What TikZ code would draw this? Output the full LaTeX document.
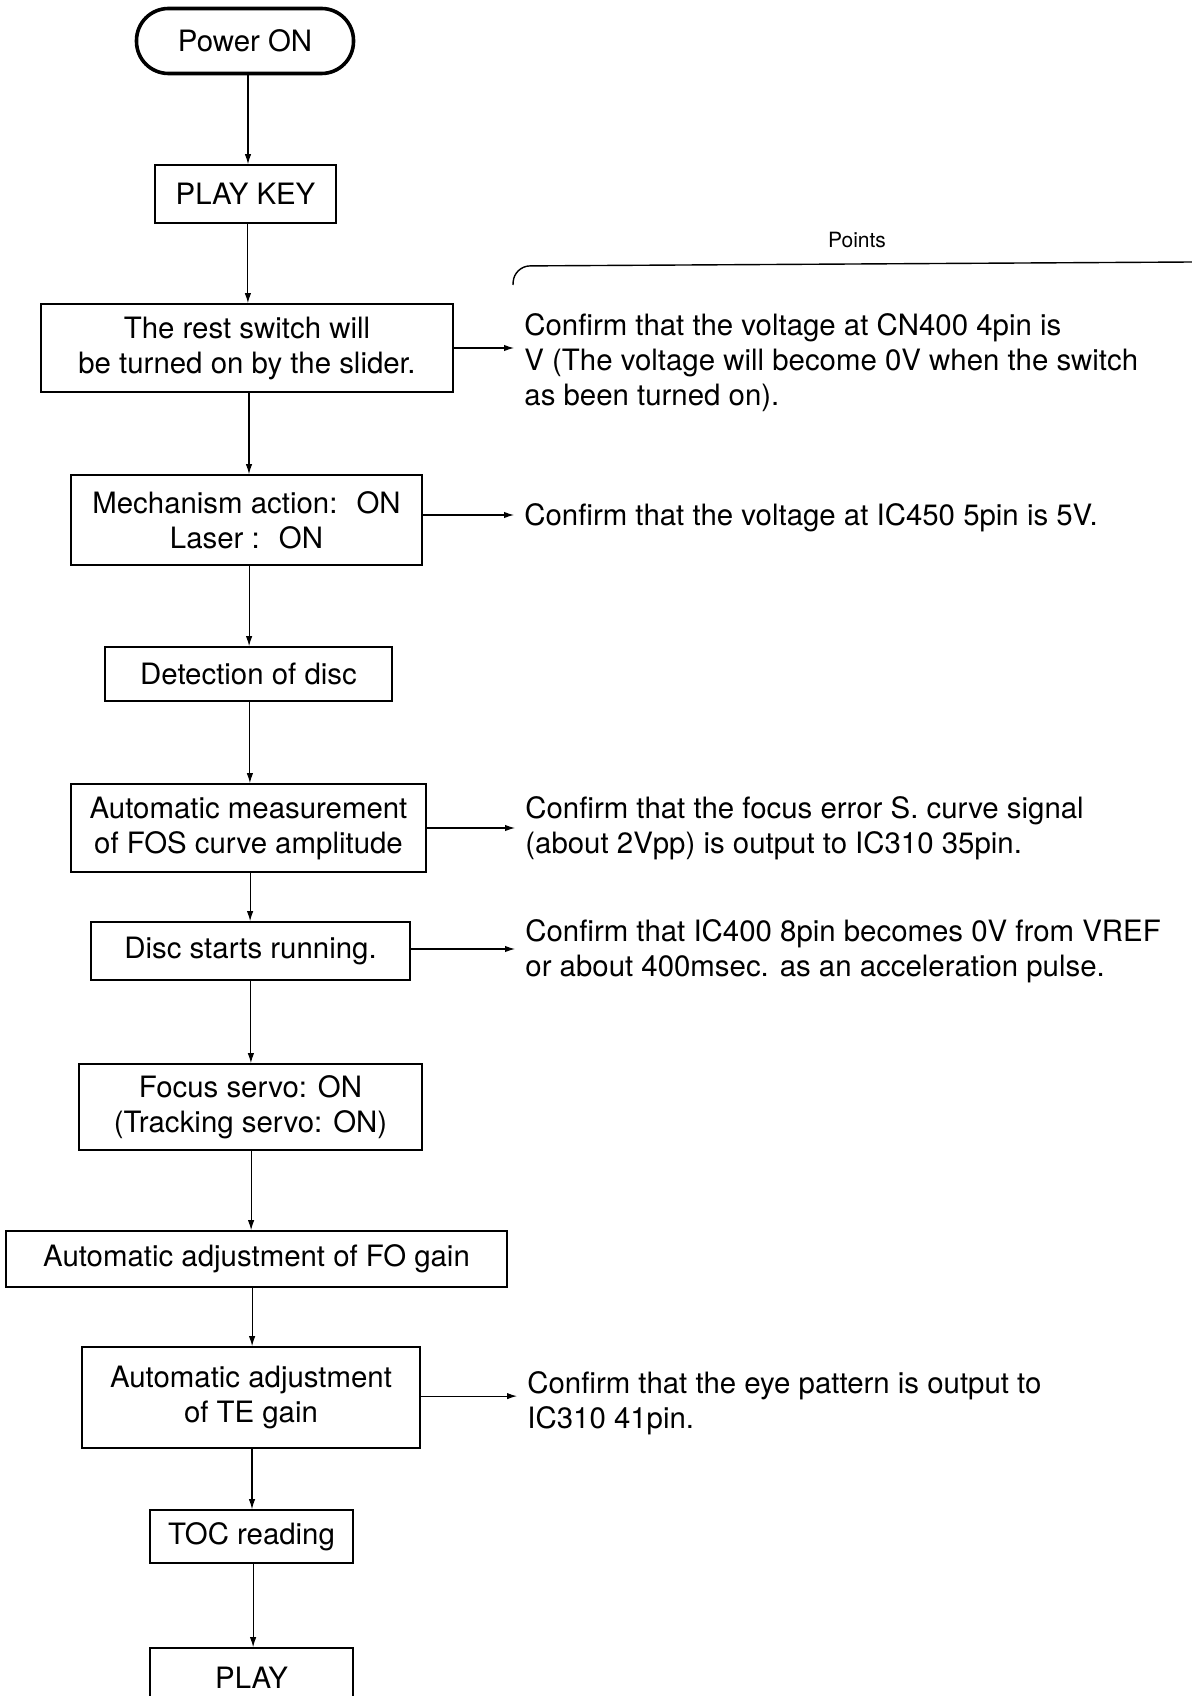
\documentclass[tikz,border=0pt]{standalone}
\usepackage{fontspec}
\setmainfont{TeX Gyre Heros}
\usetikzlibrary{arrows.meta}
\begin{document}
\begin{tikzpicture}[x=0.5pt,y=-0.5pt,
  txt/.style={font=\fontsize{14.7pt}{17.5pt}\selectfont},
  box/.style={txt,draw,line width=0.8pt,align=center,inner sep=0pt},
  startbox/.style={txt,draw,line width=1.8pt,rounded corners=16pt,align=center,inner sep=0pt},
  note/.style={txt,align=left,anchor=north west,inner xsep=5pt,inner ysep=0pt},
  arr/.style={line width=0.55pt,-{Latex[length=5pt,width=3.2pt]}}]
\useasboundingbox (0,0) rectangle (1192,1696);
\clip (0,0) rectangle (1192,1696);
% flow boxes
\node[startbox,minimum width=108.5pt,minimum height=32.5pt] (pwr) at (245,41) {Power ON};
\node[box,minimum width=90.5pt,minimum height=29pt] (key) at (245.5,194) {PLAY KEY};
\node[box,minimum width=206pt,minimum height=44pt] (rest) at (247,348) {The rest switch will\\be turned on by the slider.};
\node[box,minimum width=175.5pt,minimum height=45pt] (mech) at (246.5,520) {Mechanism action:~ ON\\Laser :~ ON};
\node[box,minimum width=143.5pt,minimum height=27pt] (det) at (248.5,674) {Detection of disc};
\node[box,minimum width=177.5pt,minimum height=44pt] (fos) at (248.5,828) {Automatic measurement\\of FOS curve amplitude};
\node[box,minimum width=159.5pt,minimum height=29pt] (disc) at (250.5,951) {Disc starts running.};
\node[box,minimum width=171.5pt,minimum height=43pt] (focus) at (250.5,1107) {Focus servo: ON\\(Tracking servo: ON)};
\node[box,minimum width=250.5pt,minimum height=28pt] (fo) at (256.5,1259) {Automatic adjustment of FO gain};
\node[box,minimum width=169pt,minimum height=50.5pt] (te) at (251,1397.5) {Automatic adjustment\\of TE gain};
\node[box,minimum width=101.5pt,minimum height=26.5pt] (toc) at (251.5,1536.5) {TOC reading};
\node[box,minimum width=101.5pt,minimum height=30pt] (play) at (251.5,1678) {PLAY};
% vertical connectors
\draw[arr] ([xshift=1.5pt]pwr.south) -- ([xshift=1.5pt]pwr.south |- key.north);
\draw[arr] ([xshift=1.2pt]key.south) -- ([xshift=1.2pt]key.south |- rest.north);
\draw[arr] ([xshift=1pt]rest.south) -- ([xshift=1pt]rest.south |- mech.north);
\draw[arr] ([xshift=1.3pt]mech.south) -- ([xshift=1.3pt]mech.south |- det.north);
\draw[arr] ([xshift=0.7pt]det.south) -- ([xshift=0.7pt]det.south |- fos.north);
\draw[arr] ([xshift=0.8pt]fos.south) -- ([xshift=0.8pt]fos.south |- disc.north);
\draw[arr] ([xshift=0.2pt]disc.south) -- ([xshift=0.2pt]disc.south |- focus.north);
\draw[arr] ([xshift=0.3pt]focus.south) -- ([xshift=0.3pt]focus.south |- fo.north);
\draw[arr] ([xshift=-2.2pt]fo.south) -- ([xshift=-2.2pt]fo.south |- te.north);
\draw[arr] ([xshift=0.5pt]te.south) -- ([xshift=0.5pt]te.south |- toc.north);
\draw[arr] ([xshift=0.8pt]toc.south) -- ([xshift=0.8pt]toc.south |- play.north);
% header
\node[font=\fontsize{10.5pt}{12pt}\selectfont] (pts) at (857,240) {Points};
\draw[line width=0.7pt,rounded corners=8pt] (513,285) -- (514,266) -- (1192,262);
% notes
\node[note] (t1) at (514,313.5) {Confirm that the voltage at CN400 4pin is\\V (The voltage will become 0V when the switch\\as been turned on).};
\node[note] (t2) at (514,503.5) {Confirm that the voltage at IC450 5pin is 5V.};
\node[note] (t3) at (515,796.5) {Confirm that the focus error S. curve signal\\(about 2Vpp) is output to IC310 35pin.};
\node[note] (t4) at (515,919.5) {Confirm that IC400 8pin becomes 0V from VREF\\or about 400msec. as an acceleration pulse.};
\node[note] (t5) at (517,1371.5) {Confirm that the eye pattern is output to\\IC310 41pin.};
% side arrows
\draw[arr] (rest.east) -- (rest.east -| t1.west);
\draw[arr] ([yshift=2.5pt]mech.east) -- ([yshift=2.5pt]mech.east -| t2.west);
\draw[arr] (fos.east) -- (fos.east -| t3.west);
\draw[arr] ([yshift=1pt]disc.east) -- ([yshift=1pt]disc.east -| t4.west);
\draw[arr] ([yshift=0.7pt]te.east) -- ([yshift=0.7pt]te.east -| t5.west);
\end{tikzpicture}
\end{document}
